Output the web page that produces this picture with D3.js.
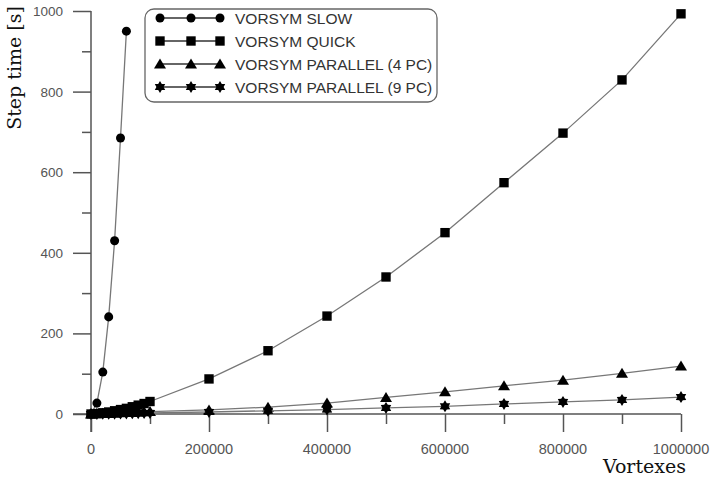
<!DOCTYPE html>
<html>
<head>
<meta charset="utf-8">
<script src="https://cdn.jsdelivr.net/npm/d3@7"></script>
<style>
  body { margin: 0; background: #fff; }
  svg { display: block; }
</style>
</head>
<body>
<div id="chart"></div>
<script>
// x values (vortexes)
const xSlow = [0, 10000, 20000, 30000, 40000, 50000, 60000];
const xFast = [0, 10000, 20000, 30000, 40000, 50000, 60000, 70000, 80000, 90000, 100000,
  200000, 300000, 400000, 500000, 600000, 700000, 800000, 900000, 1000000];

// step times [s]
const slowVals = [0, 27, 104, 241, 430, 685, 950];
const quickVals = [0, 1, 3, 5, 8, 11, 14, 18, 22, 26, 31, 87, 157, 243, 340, 450, 574, 697, 829, 993];
const par4Vals = [0, 0.5, 1, 1.5, 2, 3, 3.5, 4, 5, 5.5, 6, 10, 17, 27, 41, 55, 70, 84, 101, 119];
const par9Vals = [0, 0.2, 0.4, 0.6, 0.9, 1.1, 1.4, 1.7, 2, 2.3, 2.6, 5, 8, 11, 15, 19, 25, 30, 35, 42];

const seriesNames = ["VORSYM SLOW", "VORSYM QUICK", "VORSYM PARALLEL (4 PC)", "VORSYM PARALLEL (9 PC)"];
const markerTypes = ["circle", "square", "triangle", "star"];

const xTicks = [0, 200000, 400000, 600000, 800000, 1000000];
const yTicks = [0, 200, 400, 600, 800, 1000];

const w = 711, h = 481;

const svg = d3.select("#chart").append("svg").attr("width", w).attr("height", h);

const x = d3.scaleLinear().domain([0, 1000000]).range([91, 681]);
const y = d3.scaleLinear().domain([0, 1000]).range([414, 11]);

const axisColor = "#555";
const lineColor = "#777";

// axes
const xAxisMajor = d3.axisBottom(x).tickValues(xTicks).tickSize(18).tickFormat("");
const xAxisMinor = d3.axisBottom(x).tickValues(d3.range(100000, 1000000, 200000)).tickSize(10).tickFormat("");
const yAxisMajor = d3.axisLeft(y).tickValues(yTicks).tickSize(18).tickFormat("");
const yAxisMinor = d3.axisLeft(y).tickValues(d3.range(100, 1000, 200)).tickSize(9).tickFormat("");

function styleAxis(g) {
  g.selectAll("path").remove();
  g.selectAll("line").attr("stroke", axisColor).attr("stroke-width", 1.5);
}

svg.append("g").attr("transform", "translate(0,414)").call(xAxisMajor).call(styleAxis);
svg.append("g").attr("transform", "translate(0,414)").call(xAxisMinor).call(styleAxis);
svg.append("g").attr("transform", "translate(91,0)").call(yAxisMajor).call(styleAxis);
svg.append("g").attr("transform", "translate(91,0)").call(yAxisMinor).call(styleAxis);

// axis lines
svg.append("line").attr("x1", 91).attr("x2", 91).attr("y1", y(1000)).attr("y2", 432)
  .attr("stroke", axisColor).attr("stroke-width", 1.5);
svg.append("line").attr("x1", 73).attr("x2", x(1000000)).attr("y1", 414).attr("y2", 414)
  .attr("stroke", axisColor).attr("stroke-width", 1.5);

// tick labels
svg.append("g").selectAll("text").data(xTicks).join("text")
  .attr("x", d => x(d)).attr("y", 454)
  .attr("text-anchor", "middle")
  .attr("font-family", "'Liberation Sans', Arial, sans-serif").attr("font-size", 14.5)
  .attr("fill", "#555")
  .text(d => d);

svg.append("g").selectAll("text").data(yTicks).join("text")
  .attr("x", 63).attr("y", d => y(d) + 5)
  .attr("text-anchor", "end")
  .attr("font-family", "'Liberation Sans', Arial, sans-serif").attr("font-size", 13.5)
  .attr("fill", "#555")
  .text(d => d);

// axis titles
svg.append("text")
  .attr("x", 686).attr("y", 473)
  .attr("text-anchor", "end")
  .attr("font-family", "'DejaVu Serif', 'Liberation Serif', serif").attr("font-size", 19)
  .attr("fill", "#111")
  .text("Vortexes");

svg.append("text")
  .attr("transform", "translate(21,68) rotate(-90)")
  .attr("text-anchor", "middle")
  .attr("font-family", "'DejaVu Serif', 'Liberation Serif', serif").attr("font-size", 19)
  .attr("fill", "#111")
  .text("Step time [s]");

// markers
function starPath(r) {
  const pts = [];
  for (let i = 0; i < 12; i++) {
    const a = Math.PI / 6 * i - Math.PI / 2;
    const rr = i % 2 === 0 ? r : r * 0.6;
    pts.push([Math.cos(a) * rr, Math.sin(a) * rr]);
  }
  return "M" + pts.map(p => p.join(",")).join("L") + "Z";
}

function markerPath(type) {
  if (type === "circle") return d3.symbol(d3.symbolCircle, 64)();
  if (type === "square") return d3.symbol(d3.symbolSquare, 88)();
  if (type === "triangle") return "M0,-5.5L6,4.5L-6,4.5Z";
  return starPath(6);
}

const series = [
  { name: seriesNames[0], xs: xSlow, vals: slowVals, marker: markerTypes[0] },
  { name: seriesNames[1], xs: xFast, vals: quickVals, marker: markerTypes[1] },
  { name: seriesNames[2], xs: xFast, vals: par4Vals, marker: markerTypes[2] },
  { name: seriesNames[3], xs: xFast, vals: par9Vals, marker: markerTypes[3] }
];

const line = d3.line().x(d => x(d[0])).y(d => y(d[1]));

series.forEach(s => {
  const pts = s.xs.map((v, i) => [v, s.vals[i]]);
  svg.append("path").datum(pts)
    .attr("d", line)
    .attr("fill", "none")
    .attr("stroke", lineColor)
    .attr("stroke-width", 1.3);
  svg.append("g").selectAll("path").data(pts).join("path")
    .attr("transform", d => `translate(${x(d[0])},${y(d[1])})`)
    .attr("d", markerPath(s.marker))
    .attr("fill", "#000");
});

// legend
const legend = svg.append("g");
legend.append("rect")
  .attr("x", 145).attr("y", 9).attr("width", 292).attr("height", 93)
  .attr("rx", 9).attr("ry", 9)
  .attr("fill", "#fff").attr("stroke", "#666").attr("stroke-width", 1.3);

const legendY = [18, 41, 64, 87];
series.forEach((s, i) => {
  const ly = legendY[i];
  legend.append("line").attr("x1", 160).attr("x2", 220).attr("y1", ly).attr("y2", ly)
    .attr("stroke", "#333").attr("stroke-width", 1.3);
  [160, 191, 220].forEach(mx => {
    legend.append("path")
      .attr("transform", `translate(${mx},${ly})`)
      .attr("d", markerPath(s.marker))
      .attr("fill", "#000");
  });
  legend.append("text")
    .attr("x", 235).attr("y", ly + 5.5)
    .attr("font-family", "'Liberation Sans', Arial, sans-serif").attr("font-size", 15.5)
    .attr("fill", "#333")
    .text(s.name);
});
</script>
</body>
</html>
